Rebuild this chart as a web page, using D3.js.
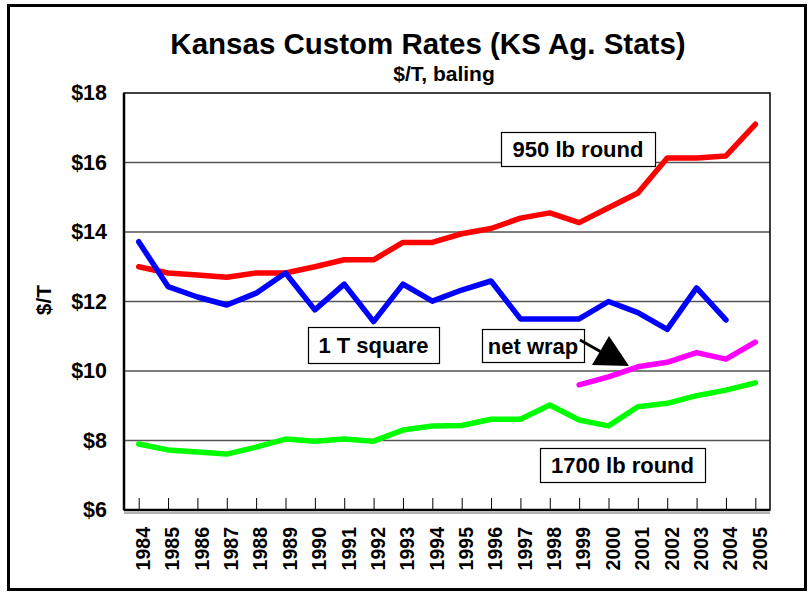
<!DOCTYPE html>
<html>
<head>
<meta charset="utf-8">
<script src="https://cdn.jsdelivr.net/npm/d3@7"></script>
<style>
  body { margin: 0; background: #fff; }
  text { font-family: "Liberation Sans", Arial, sans-serif; font-weight: bold; fill: #000; }
</style>
</head>
<body>
<div id="chart"></div>
<script>
const years = d3.range(1984, 2006).map(String);

// $/T values
const round950 = [13.0, 12.82, 12.76, 12.7, 12.82, 12.82, 13.0, 13.2, 13.2, 13.7, 13.7, 13.95,
  14.1, 14.4, 14.55, 14.27, 14.7, 15.12, 16.13, 16.13, 16.19, 17.1];
const square1T = [13.72, 12.43, 12.13, 11.9, 12.24, 12.82, 11.76, 12.5, 11.42, 12.5, 12.01, 12.33,
  12.59, 11.5, 11.5, 11.5, 12.0, 11.68, 11.2, 12.39, 11.47, null];
const netWrap = [null, null, null, null, null, null, null, null, null, null, null, null,
  null, null, null, 9.6, 9.83, 10.12, 10.25, 10.53, 10.34, 10.83];
const round1700 = [7.9, 7.73, 7.67, 7.61, 7.81, 8.04, 7.98, 8.04, 7.98, 8.3, 8.42, 8.43,
  8.61, 8.61, 9.02, 8.59, 8.42, 8.97, 9.07, 9.29, 9.45, 9.66];

const yTicks = [6, 8, 10, 12, 14, 16, 18];

const series = [
  { name: "950 lb round", values: round950, color: "#ff0000" },
  { name: "1 T square", values: square1T, color: "#0000ff" },
  { name: "net wrap", values: netWrap, color: "#ff00ff" },
  { name: "1700 lb round", values: round1700, color: "#00ff00" }
];

const W = 812, H = 593;
const plot = { left: 124, right: 770, top: 93, bottom: 510 };

const svg = d3.select("#chart").append("svg")
  .attr("width", W)
  .attr("height", H);

// outer frame
svg.append("rect")
  .attr("x", 8.5).attr("y", 5.5)
  .attr("width", 797).attr("height", 584)
  .attr("fill", "#fff")
  .attr("stroke", "#000")
  .attr("stroke-width", 3);

const x = d3.scalePoint()
  .domain(years)
  .range([plot.left, plot.right])
  .padding(0.5);

const y = d3.scaleLinear()
  .domain([6, 18])
  .range([plot.bottom, plot.top]);

// titles
svg.append("text")
  .attr("x", 428).attr("y", 54)
  .attr("text-anchor", "middle")
  .style("font-size", "29.5px")
  .text("Kansas Custom Rates (KS Ag. Stats)");

svg.append("text")
  .attr("x", 444).attr("y", 81)
  .attr("text-anchor", "middle")
  .style("font-size", "21px")
  .text("$/T, baling");

// gridlines
svg.append("g")
  .selectAll("line")
  .data(yTicks.filter(d => d > 6 && d < 18))
  .join("line")
  .attr("x1", plot.left).attr("x2", plot.right)
  .attr("y1", d => y(d)).attr("y2", d => y(d))
  .attr("stroke", "#555")
  .attr("stroke-width", 1.3);

// plot frame
svg.append("rect")
  .attr("x", plot.left).attr("y", plot.top)
  .attr("width", plot.right - plot.left)
  .attr("height", plot.bottom - plot.top)
  .attr("fill", "none")
  .attr("stroke", "#000")
  .attr("stroke-width", 1.5);

svg.append("line")
  .attr("x1", plot.left).attr("x2", plot.left)
  .attr("y1", plot.top).attr("y2", plot.bottom)
  .attr("stroke", "#000").attr("stroke-width", 2.5);

svg.append("line")
  .attr("x1", plot.left).attr("x2", plot.right)
  .attr("y1", plot.bottom).attr("y2", plot.bottom)
  .attr("stroke", "#000").attr("stroke-width", 2.5);

svg.append("line")
  .attr("x1", plot.left).attr("x2", plot.right)
  .attr("y1", plot.bottom + 3).attr("y2", plot.bottom + 3)
  .attr("stroke", "#999").attr("stroke-width", 1.5);

// x axis: ticks pointing up, rotated labels
const xAxis = svg.append("g")
  .attr("transform", `translate(0,${plot.bottom})`)
  .call(d3.axisBottom(x).tickSizeInner(-12).tickSizeOuter(0));

xAxis.select(".domain").remove();
xAxis.selectAll(".tick line").attr("stroke", "#000").attr("stroke-width", 1);
xAxis.selectAll(".tick text")
  .attr("transform", "rotate(-90)")
  .attr("x", -17)
  .attr("y", 4)
  .attr("dy", "0.35em")
  .attr("text-anchor", "end")
  .attr("fill", "#000")
  .style("font-size", "19.5px")
  .style("font-family", "'Liberation Sans', Arial, sans-serif")
  .style("font-weight", "bold");

// y axis labels
const yAxis = svg.append("g")
  .attr("transform", `translate(${plot.left},0)`)
  .call(d3.axisLeft(y).tickValues(yTicks).tickSize(0).tickPadding(17).tickFormat(d => "$" + d));

yAxis.select(".domain").remove();
yAxis.selectAll(".tick text")
  .attr("fill", "#000")
  .style("font-size", "21.5px")
  .style("font-family", "'Liberation Sans', Arial, sans-serif")
  .style("font-weight", "bold");

svg.append("text")
  .attr("transform", "translate(51,300) rotate(-90)")
  .attr("text-anchor", "middle")
  .style("font-size", "21px")
  .text("$/T");

// lines
const line = d3.line()
  .defined(d => d.v != null)
  .x(d => x(d.year))
  .y(d => y(d.v));

svg.append("g")
  .selectAll("path")
  .data(series)
  .join("path")
  .attr("d", s => line(years.map((yr, i) => ({ year: yr, v: s.values[i] }))))
  .attr("fill", "none")
  .attr("stroke", s => s.color)
  .attr("stroke-width", 5.5)
  .attr("stroke-linejoin", "round")
  .attr("stroke-linecap", "round");

// label boxes
const boxes = [
  { text: "950 lb round", x: 501, y: 132, w: 154, h: 34 },
  { text: "1 T square", x: 308, y: 327, w: 131, h: 36 },
  { text: "net wrap", x: 482, y: 329, w: 102, h: 33 },
  { text: "1700 lb round", x: 540, y: 448, w: 165, h: 34 }
];

const bg = svg.append("g")
  .selectAll("g")
  .data(boxes)
  .join("g");

bg.append("rect")
  .attr("x", d => d.x + 0.5).attr("y", d => d.y + 0.5)
  .attr("width", d => d.w).attr("height", d => d.h)
  .attr("fill", "#fff")
  .attr("stroke", "#000")
  .attr("stroke-width", 1.2);

bg.append("text")
  .attr("x", d => d.x + d.w / 2)
  .attr("y", d => d.y + d.h / 2 + 8)
  .attr("text-anchor", "middle")
  .style("font-size", "22px")
  .text(d => d.text);

// arrow from "net wrap" to its line
svg.append("line")
  .attr("x1", 580).attr("y1", 340)
  .attr("x2", 603).attr("y2", 353)
  .attr("stroke", "#000")
  .attr("stroke-width", 3);

svg.append("path")
  .attr("d", "M609,336 L592,365 L629,366 Z")
  .attr("fill", "#000");
</script>
</body>
</html>
